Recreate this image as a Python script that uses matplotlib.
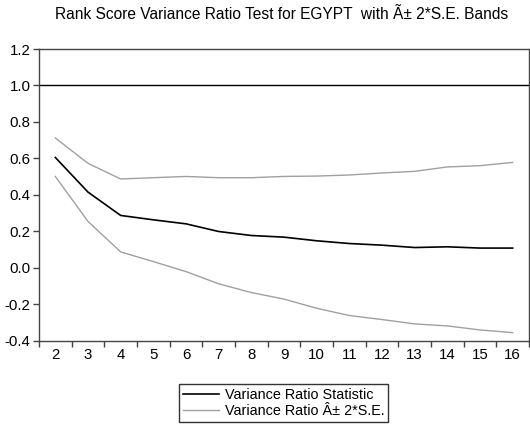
import numpy as np
import matplotlib
matplotlib.use('Agg')
import matplotlib.pyplot as plt
from matplotlib.ticker import FixedLocator, NullFormatter

plt.rcParams['font.family'] = ['Liberation Sans', 'DejaVu Sans']

# lags and variance ratio results
lags = [2, 3, 4, 5, 6, 7, 8, 9, 10, 11, 12, 13, 14, 15, 16]
vr_stat = [0.605, 0.415, 0.287, 0.263, 0.241, 0.199, 0.177, 0.168, 0.148, 0.133,
           0.124, 0.111, 0.115, 0.108, 0.108]
vr_upper = [0.712, 0.573, 0.487, 0.494, 0.501, 0.494, 0.494, 0.501, 0.503, 0.509,
            0.520, 0.529, 0.553, 0.560, 0.578]
vr_lower = [0.501, 0.254, 0.087, 0.034, -0.021, -0.088, -0.136, -0.172, -0.222, -0.262,
            -0.284, -0.308, -0.319, -0.341, -0.356]

fig = plt.figure(figsize=(5.3, 4.24), dpi=100)
ax = fig.add_axes([0.0736, 0.1965, 0.9245, 0.6879])

ax.axhline(1.0, color='black', lw=1.0)
l1, = ax.plot(lags, vr_stat, color='black', lw=1.2, label='Variance Ratio Statistic')
l2, = ax.plot(lags, vr_upper, color='#a0a0a0', lw=1.0, label='Variance Ratio Â± 2*S.E.')
ax.plot(lags, vr_lower, color='#a0a0a0', lw=1.0)

ax.set_xlim(1.5, 16.5)
ax.set_ylim(-0.4, 1.2)
ax.set_yticks([-0.4, -0.2, 0.0, 0.2, 0.4, 0.6, 0.8, 1.0, 1.2])
ax.set_yticklabels(['-0.4', '-0.2', '0.0', '0.2', '0.4', '0.6', '0.8', '1.0', '1.2'])

# ticks between categories, labels on the categories
ax.xaxis.set_major_locator(FixedLocator(np.arange(1.5, 17, 1.0)))
ax.xaxis.set_major_formatter(NullFormatter())
ax.xaxis.set_minor_locator(FixedLocator(lags))
ax.set_xticklabels([str(k) for k in lags], minor=True)
ax.tick_params(axis='x', which='major', length=4, width=1, color='#444444')
ax.tick_params(axis='x', which='minor', length=0, pad=5, labelsize=10.8)
ax.tick_params(axis='y', length=4, width=1, color='#444444', labelsize=10.8, pad=2)

for s in ax.spines.values():
    s.set_color('#444444')
    s.set_linewidth(1.0)

fig.text(0.532, 0.965, 'Rank Score Variance Ratio Test for EGYPT  with Ã± 2*S.E. Bands',
         ha='center', va='center', fontsize=11.2)

leg = fig.legend(handles=[l1, l2], loc='center', bbox_to_anchor=(0.535, 0.0495),
                 fontsize=10.4, frameon=True, fancybox=False, edgecolor='black',
                 handlelength=2.5, handletextpad=0.4, borderpad=0.25, labelspacing=0.2,
                 borderaxespad=0)
leg.get_frame().set_linewidth(1.0)

fig.savefig('out.png', dpi=100)
